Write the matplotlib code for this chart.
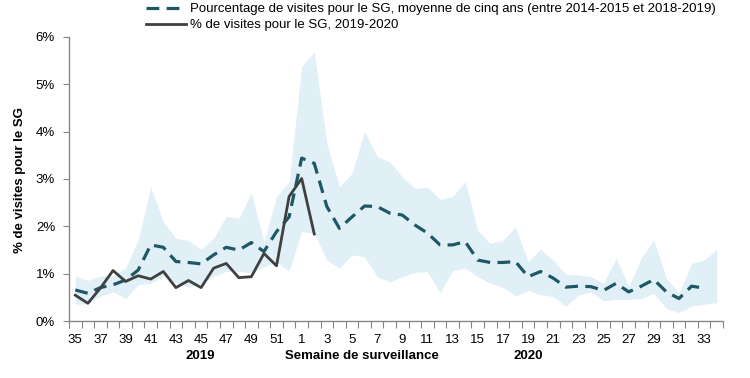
import numpy as np
import matplotlib
matplotlib.use("Agg")
import matplotlib.pyplot as plt
from matplotlib.ticker import FixedLocator, FuncFormatter

plt.rcParams['font.family'] = ['Liberation Sans', 'DejaVu Sans']
plt.rcParams['font.size'] = 9

# surveillance weeks: 35..52 of 2019, then 1..34 of 2020
weeks = list(range(35, 53)) + list(range(1, 35))

# 2019-2020 season (%), reported up to week 2
season_2019_2020 = [0.55, 0.38, 0.70, 1.07, 0.84, 0.96, 0.89, 1.05, 0.71, 0.86,
                    0.71, 1.12, 1.22, 0.92, 0.94, 1.43, 1.17, 2.63, 3.01, 1.84]

# five-year mean (%), up to week 33
mean_5y = [0.66, 0.59, 0.71, 0.77, 0.87, 1.08, 1.61, 1.56, 1.26, 1.24,
           1.21, 1.40, 1.56, 1.50, 1.66, 1.47, 1.89, 2.20, 3.44, 3.33,
           2.42, 1.96, 2.20, 2.43, 2.42, 2.28, 2.24, 2.03, 1.86, 1.61,
           1.61, 1.68, 1.29, 1.24, 1.24, 1.26, 0.94, 1.05, 0.91, 0.72,
           0.74, 0.73, 0.65, 0.80, 0.62, 0.74, 0.88, 0.62, 0.48, 0.74,
           0.70]

# min / max range of previous seasons (%)
band_high = [0.96, 0.86, 0.96, 0.95, 1.13, 1.71, 2.83, 2.10, 1.75, 1.70,
             1.52, 1.75, 2.21, 2.17, 2.71, 1.68, 2.63, 2.94, 5.37, 5.68,
             3.75, 2.84, 3.12, 4.00, 3.47, 3.36, 3.05, 2.80, 2.83, 2.57,
             2.63, 2.94, 1.92, 1.64, 1.71, 1.99, 1.26, 1.52, 1.29, 0.99,
             0.98, 0.94, 0.80, 1.33, 0.73, 1.33, 1.71, 0.91, 0.59, 1.22,
             1.29, 1.52]
band_low = [0.36, 0.37, 0.53, 0.62, 0.48, 0.77, 0.80, 0.95, 0.80, 0.72,
            0.80, 0.95, 1.05, 1.05, 1.02, 1.15, 1.25, 1.06, 1.89, 1.86,
            1.29, 1.12, 1.40, 1.36, 0.94, 0.83, 0.94, 1.03, 1.05, 0.60,
            1.07, 1.12, 0.94, 0.80, 0.72, 0.53, 0.65, 0.56, 0.52, 0.31,
            0.55, 0.62, 0.43, 0.46, 0.46, 0.48, 0.59, 0.27, 0.18, 0.32,
            0.36, 0.39]

x = np.arange(len(weeks))

fig = plt.figure(figsize=(7.5, 3.78), dpi=100)
ax = fig.add_axes([0.092, 0.150, 0.872, 0.753])

ax.fill_between(x, band_low, band_high, color='#e1f0f7', linewidth=0, zorder=1)
ax.plot(x[:len(mean_5y)], mean_5y, color='#1f5865', lw=2.3, dashes=(4, 2.3),
        label="Pourcentage de visites pour le SG, moyenne de cinq ans (entre 2014-2015 et 2018-2019)",
        zorder=3)
ax.plot(x[:len(season_2019_2020)], season_2019_2020, color='#404040', lw=2.0,
        label="% de visites pour le SG, 2019-2020", zorder=4)

ax.set_xlim(-0.5, len(weeks) - 0.5)
ax.set_ylim(0, 6)

# ticks at category boundaries, labels on every other week
ax.xaxis.set_major_locator(FixedLocator(np.arange(-0.5, len(weeks), 1.0)))
ax.xaxis.set_major_formatter(FuncFormatter(lambda v, p: ""))
ax.xaxis.set_minor_locator(FixedLocator(x[::2]))
ax.set_xticklabels([str(w) for w in weeks[::2]], minor=True)
ax.tick_params(axis='x', which='major', length=5, color='#868686', direction='out')
ax.tick_params(axis='x', which='minor', length=0, pad=9, labelsize=9.5)

ax.set_yticks(range(0, 7))
ax.set_yticklabels([f"{v}%" for v in range(0, 7)])
ax.tick_params(axis='y', length=4, color='#868686', labelsize=9.5, pad=6)

for s in ['top', 'right']:
    ax.spines[s].set_visible(False)
for s in ['left', 'bottom']:
    ax.spines[s].set_color('#868686')
    ax.spines[s].set_linewidth(1.0)

fig.text(20 / 750, 1 - 180 / 378, "% de visites pour le SG", rotation=90,
         ha='center', va='center', fontweight='bold', fontsize=9.5)
fig.text(200 / 750, 1 - 356 / 378, "2019", ha='center', va='center',
         fontweight='bold', fontsize=9.5)
fig.text(362 / 750, 1 - 356 / 378, "Semaine de surveillance", ha='center',
         va='center', fontweight='bold', fontsize=9.5)
fig.text(528 / 750, 1 - 356 / 378, "2020", ha='center', va='center',
         fontweight='bold', fontsize=9.5)

fig.legend(loc='upper left', bbox_to_anchor=(146 / 750, 1 - 3 / 378),
           frameon=False, borderpad=0, borderaxespad=0, handlelength=3.0,
           handletextpad=0.3, labelspacing=0.3, fontsize=9.5)

fig.savefig("out.png", dpi=100)
